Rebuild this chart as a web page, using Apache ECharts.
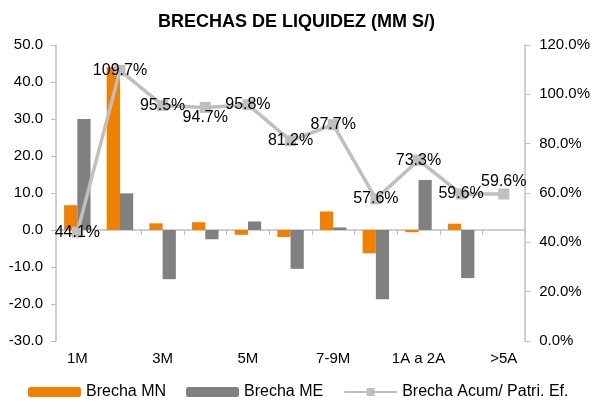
<!DOCTYPE html>
<html><head><meta charset="utf-8">
<script src="https://cdn.jsdelivr.net/npm/echarts@6/dist/echarts.min.js"></script>
<style>html,body{margin:0;padding:0;background:#fff}#c{width:593px;height:402px}</style>
</head><body><div id="c"></div>
<script>
const categories = ['1M','2M','3M','4M','5M','6M','7-9M','10-12M','1A a 2A','2A a 5A','>5A'];
const brechaMN = [6.7, 44.0, 1.8, 2.1, -1.3, -1.9, 5.0, -6.3, -0.6, 1.7, 0];
const brechaME = [30.0, 9.9, -13.3, -2.5, 2.3, -10.5, 0.7, -18.7, 13.5, -13.0, 0];
const acumPatri = [44.1, 109.7, 95.5, 94.7, 95.8, 81.2, 87.7, 57.6, 73.3, 59.6, 59.6];
const leftTicks = [-30, 50, 10];
const rightTicks = [0, 120, 20];

const font = 'Liberation Sans, Arial, sans-serif';
const labelOffsets = {3: [0, 10], 10: [0, -12]};
const lineData = acumPatri.map((v, i) => {
  const o = {value: v};
  if (labelOffsets[i]) o.label = {offset: labelOffsets[i]};
  return o;
});
const axisGray = '#bfbfbf';
const chart = echarts.init(document.getElementById('c'));
chart.setOption({
  animation: false,
  title: {text: 'BRECHAS DE LIQUIDEZ (MM S/)', left: 'center', top: 8,
    textStyle: {fontFamily: font, fontSize: 18, fontWeight: 'bold', color: '#000'}},
  grid: {left: 56, right: 67, top: 45, bottom: 61},
  legend: {bottom: 2, left: 28, padding: 0, itemWidth: 53, itemHeight: 10, itemGap: 20,
    textStyle: {fontFamily: font, fontSize: 16, color: '#000'},
    data: ['Brecha MN', 'Brecha ME', {name: 'Brecha Acum/ Patri. Ef.'}]},
  xAxis: {type: 'category', data: categories,
    axisLine: {onZero: true, lineStyle: {color: axisGray, width: 1.5}},
    axisTick: {show: true, interval: 0, length: 5, lineStyle: {color: axisGray}},
    axisLabel: {interval: 1, fontFamily: font, fontSize: 15, color: '#000', margin: 10},
    position: 'bottom'},
  yAxis: [
    {type: 'value', min: leftTicks[0], max: leftTicks[1], interval: leftTicks[2],
      axisLine: {show: true, lineStyle: {color: axisGray, width: 1.5}},
      axisTick: {show: true, length: 5, lineStyle: {color: axisGray}},
      splitLine: {show: false},
      axisLabel: {fontFamily: font, fontSize: 15, color: '#000', formatter: v => v.toFixed(1), margin: 13}},
    {type: 'value', min: rightTicks[0], max: rightTicks[1], interval: rightTicks[2],
      axisLine: {show: true, lineStyle: {color: axisGray, width: 1.5}},
      axisTick: {show: true, length: 5, lineStyle: {color: axisGray}},
      splitLine: {show: false},
      axisLabel: {fontFamily: font, fontSize: 15, color: '#000', formatter: v => v.toFixed(1) + '%', margin: 14}}
  ],
  series: [
    {name: 'Brecha MN', type: 'bar', data: brechaMN, itemStyle: {color: '#F08000'},
      barGap: '0%', barCategoryGap: '38%'},
    {name: 'Brecha ME', type: 'bar', data: brechaME, itemStyle: {color: '#808080'}},
    {name: 'Brecha Acum/ Patri. Ef.', type: 'line', yAxisIndex: 1, data: lineData,
      symbol: 'rect', symbolSize: 11, z: 5,
      lineStyle: {color: '#bfbfbf', width: 3.5}, itemStyle: {color: '#bfbfbf'},
      label: {show: true, position: 'inside', fontFamily: font, fontSize: 16, color: '#000',
        formatter: p => p.value.toFixed(1) + '%'}}
  ]
});
</script></body></html>
